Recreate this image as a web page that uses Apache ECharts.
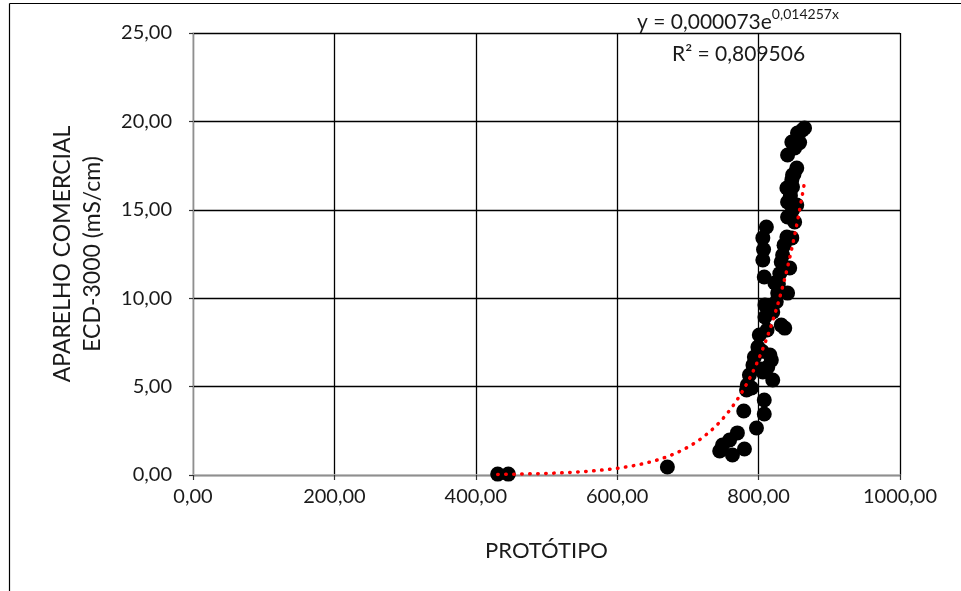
<!DOCTYPE html>
<html>
<head>
<meta charset="utf-8">
<script src="https://cdn.jsdelivr.net/npm/echarts@6/dist/echarts.min.js"></script>
<style>html,body{margin:0;padding:0;background:#fff}#c{width:961px;height:591px}</style>
</head>
<body>
<div id="c"></div>
<script>
// Data
var prototipo = [431, 446, 671,
  865, 855, 862, 847, 851, 841, 854, 848, 847, 840, 848, 841, 854,
  848, 841, 851, 840, 847, 811, 806, 806, 834, 832, 844, 808, 823, 827, 841, 807,
  809, 809, 820, 832, 837, 801, 799, 816, 794, 792, 813, 820, 787, 784, 806,
  783, 790, 808, 808, 779, 797, 770, 759, 749, 763, 780, 745,
  858, 850, 836, 830, 825, 812, 805, 818, 803, 845, 828];
var aparelho = [0.05, 0.05, 0.45,
  19.63, 19.34, 19.51, 18.83, 18.50, 18.10, 17.36, 16.97, 16.69, 16.23, 16.29, 15.44, 15.27,
  14.99, 14.59, 14.31, 13.46, 13.41, 14.03, 13.41, 12.16, 12.44, 12.05, 11.71, 11.20, 10.86, 10.29, 10.29, 12.75,
  9.62, 8.94, 9.22, 8.48, 8.31, 7.92, 7.24, 6.79, 6.67, 6.22, 6.11, 5.37, 5.66, 5.09, 5.83,
  4.81, 4.92, 4.24, 3.45, 3.62, 2.66, 2.38, 1.98, 1.70, 1.13, 1.47, 1.36,
  18.8, 17.0, 13.0, 11.4, 9.8, 8.2, 7.0, 6.5, 6.0, 15.8, 10.8];
// Trendline (exponential fit shown on the chart)
var trendA = 0.000073;
var trendB = 0.014257;
var trendRange = [431, 866];
var trendR2 = '0,809506';
var xTicks = [0, 200, 400, 600, 800, 1000];
var xTickLabels = ['0,00', '200,00', '400,00', '600,00', '800,00', '1000,00'];
var yTicks = [0, 5, 10, 15, 20, 25];
var yTickLabels = ['0,00', '5,00', '10,00', '15,00', '20,00', '25,00'];

var pts = prototipo.map(function (x, i) { return [x, aparelho[i]]; });
var trend = [];
for (var x = trendRange[0]; x <= trendRange[1]; x += 2) {
  trend.push([x, trendA * Math.exp(trendB * x)]);
}
var FONT = 'Lato, "Noto Sans", sans-serif';
var TXT = '#1a1a1a';
var chart = echarts.init(document.getElementById('c'), null, {renderer: 'canvas'});
chart.setOption({
  animation: false,
  backgroundColor: '#fff',
  grid: {left: 193, right: 61, top: 33, bottom: 116},
  xAxis: {
    type: 'value', min: 0, max: 1000, interval: 200,
    name: 'PROTÓTIPO', nameLocation: 'middle', nameGap: 65,
    nameTextStyle: {color: TXT, fontSize: 22, fontFamily: FONT},
    axisLine: {show: true, lineStyle: {color: '#bfbfbf', width: 1.5}},
    axisTick: {show: true, length: 5, lineStyle: {color: '#333', width: 1.2}},
    axisLabel: {color: TXT, fontSize: 20, fontFamily: FONT, margin: 12,
      formatter: function (v) { var i = xTicks.indexOf(v); return i >= 0 ? xTickLabels[i] : ''; }},
    splitLine: {show: true, lineStyle: {color: '#000', width: 1.3}}
  },
  yAxis: {
    type: 'value', min: 0, max: 25, interval: 5,
    name: 'APARELHO COMERCIAL\nECD-3000 (mS/cm)', nameLocation: 'middle', nameGap: 85,
    nameTextStyle: {color: TXT, fontSize: 23, fontFamily: FONT, lineHeight: 30},
    axisLine: {show: true, lineStyle: {color: '#bfbfbf', width: 1.5}},
    axisTick: {show: true, length: 4, lineStyle: {color: '#333', width: 1.2}},
    axisLabel: {color: TXT, fontSize: 20, fontFamily: FONT, margin: 21,
      formatter: function (v) { var i = yTicks.indexOf(v); return i >= 0 ? yTickLabels[i] : ''; }},
    splitLine: {show: true, lineStyle: {color: '#000', width: 1.3}}
  },
  graphic: [
    {type: 'line', z: 100, silent: true, shape: {x1: 9.5, y1: 3.5, x2: 961, y2: 3.5},
      style: {stroke: '#000', lineWidth: 1.2}},
    {type: 'line', z: 100, silent: true, shape: {x1: 9.5, y1: 3.5, x2: 9.5, y2: 591},
      style: {stroke: '#000', lineWidth: 1.2}},
    {type: 'text', left: 637, top: 7, z: 100,
      style: {
        text: '{b|y = 0,000073e}{s|0,014257x}',
        rich: {
          b: {fontSize: 21, fontFamily: FONT, fill: TXT, verticalAlign: 'bottom', lineHeight: 26},
          s: {fontSize: 14, fontFamily: FONT, fill: TXT, verticalAlign: 'top', lineHeight: 16, padding: [0, 0, 12, 0]}
        }
      }},
    {type: 'text', left: 672, top: 44, z: 100,
      style: {text: 'R² = ' + trendR2, fontSize: 21, fontFamily: FONT, fill: TXT}}
  ],
  series: [
    {type: 'scatter', data: pts, symbol: 'circle', symbolSize: 15,
      itemStyle: {color: '#000', opacity: 1}, z: 2},
    {type: 'line', data: trend, showSymbol: false, smooth: false, z: 3,
      lineStyle: {color: '#ff0000', width: 3.5, type: [0.5, 7.5], cap: 'round'}}
  ]
});
</script>
</body>
</html>
